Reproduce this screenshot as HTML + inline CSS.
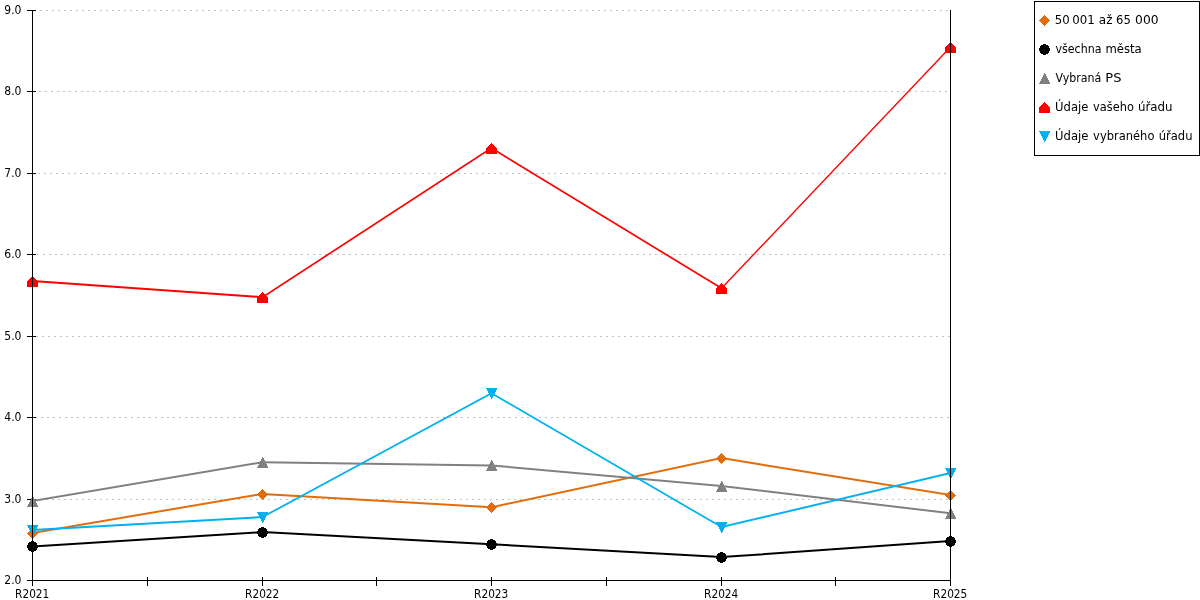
<!DOCTYPE html>
<html lang="cs">
<head>
<meta charset="utf-8">
<title>Graf</title>
<style>
html,body{margin:0;padding:0;background:#fff;}
body{width:1200px;height:600px;overflow:hidden;}
svg{display:block;}
.ax{font-family:"DejaVu Sans Condensed", "Liberation Sans", sans-serif;font-size:12px;fill:#000;}
.lg{font-family:"DejaVu Sans Condensed", "Liberation Sans", sans-serif;font-size:12px;fill:#000;}
.crisp{shape-rendering:crispEdges;}
</style>
</head>
<body>
<svg width="1200" height="600" viewBox="0 0 1200 600">
<rect x="0" y="0" width="1200" height="600" fill="#ffffff"/>

<g class="crisp" stroke="#C0C0C0" stroke-width="1" stroke-dasharray="2 4">
<line x1="40" y1="10.5" x2="950" y2="10.5"/>
<line x1="39" y1="91.5" x2="950" y2="91.5"/>
<line x1="38" y1="173.5" x2="950" y2="173.5"/>
<line x1="37" y1="254.5" x2="950" y2="254.5"/>
<line x1="36" y1="336.5" x2="950" y2="336.5"/>
<line x1="35" y1="417.5" x2="950" y2="417.5"/>
<line x1="40" y1="499.5" x2="950" y2="499.5"/>
</g>
<g class="crisp" fill="#000">
<rect x="27" y="10" width="9" height="1"/>
<rect x="27" y="91" width="9" height="1"/>
<rect x="27" y="173" width="9" height="1"/>
<rect x="27" y="254" width="9" height="1"/>
<rect x="27" y="336" width="9" height="1"/>
<rect x="27" y="417" width="9" height="1"/>
<rect x="27" y="499" width="9" height="1"/>
<rect x="27" y="580" width="9" height="1"/>
<rect x="32" y="577" width="1" height="9"/>
<rect x="147" y="577" width="1" height="9"/>
<rect x="262" y="577" width="1" height="9"/>
<rect x="376" y="577" width="1" height="9"/>
<rect x="491" y="577" width="1" height="9"/>
<rect x="606" y="577" width="1" height="9"/>
<rect x="721" y="577" width="1" height="9"/>
<rect x="835" y="577" width="1" height="9"/>
<rect x="950" y="577" width="1" height="9"/>
</g>
<polygon points="32.5,531.9 262.5,492.9 491.5,506.3 721.5,457.1 950.5,494.1 950.5,496.1 721.5,459.1 491.5,508.3 262.5,494.9 32.5,533.9" fill="#E36C0A"/>
<g class="crisp">
<polygon points="32.5,528 38,533.5 32.5,539 27,533.5" fill="#E36C0A"/>
<polygon points="262.5,489 268,494.5 262.5,500 257,494.5" fill="#E36C0A"/>
<polygon points="491.5,502 497,507.5 491.5,513 486,507.5" fill="#E36C0A"/>
<polygon points="721.5,453 727,458.5 721.5,464 716,458.5" fill="#E36C0A"/>
<polygon points="950.5,490 956,495.5 950.5,501 945,495.5" fill="#E36C0A"/>
</g>
<polygon points="32.5,545.5 262.5,531.1 491.5,543.3 721.5,556.1 950.5,540.1 950.5,542.1 721.5,558.1 491.5,545.3 262.5,533.1 32.5,547.5" fill="#000000"/>
<g class="crisp">
<path d="M31 541h3v1h-3zM29 542h7v1h-7zM28 543h9v1h-9zM28 544h9v1h-9zM27 545h11v1h-11zM27 546h11v1h-11zM27 547h11v1h-11zM28 548h9v1h-9zM28 549h9v1h-9zM29 550h7v1h-7zM31 551h3v1h-3z" fill="#000000"/>
<path d="M261 527h3v1h-3zM259 528h7v1h-7zM258 529h9v1h-9zM258 530h9v1h-9zM257 531h11v1h-11zM257 532h11v1h-11zM257 533h11v1h-11zM258 534h9v1h-9zM258 535h9v1h-9zM259 536h7v1h-7zM261 537h3v1h-3z" fill="#000000"/>
<path d="M490 539h3v1h-3zM488 540h7v1h-7zM487 541h9v1h-9zM487 542h9v1h-9zM486 543h11v1h-11zM486 544h11v1h-11zM486 545h11v1h-11zM487 546h9v1h-9zM487 547h9v1h-9zM488 548h7v1h-7zM490 549h3v1h-3z" fill="#000000"/>
<path d="M720 552h3v1h-3zM718 553h7v1h-7zM717 554h9v1h-9zM717 555h9v1h-9zM716 556h11v1h-11zM716 557h11v1h-11zM716 558h11v1h-11zM717 559h9v1h-9zM717 560h9v1h-9zM718 561h7v1h-7zM720 562h3v1h-3z" fill="#000000"/>
<path d="M949 536h3v1h-3zM947 537h7v1h-7zM946 538h9v1h-9zM946 539h9v1h-9zM945 540h11v1h-11zM945 541h11v1h-11zM945 542h11v1h-11zM946 543h9v1h-9zM946 544h9v1h-9zM947 545h7v1h-7zM949 546h3v1h-3z" fill="#000000"/>
</g>
<polygon points="32.5,500.1 262.5,461.2 491.5,464.4 721.5,485 950.5,512.3 950.5,514.3 721.5,487 491.5,466.4 262.5,463.2 32.5,502.1" fill="#808080"/>
<g class="crisp">
<path d="M32 496h1v1h-1zM32 497h2v1h-2zM31 498h3v1h-3zM31 499h4v1h-4zM30 500h5v1h-5zM30 501h6v1h-6zM29 502h7v1h-7zM29 503h8v1h-8zM28 504h9v1h-9zM28 505h10v1h-10zM27 506h11v1h-11z" fill="#808080"/>
<path d="M262 457h1v1h-1zM262 458h2v1h-2zM261 459h3v1h-3zM261 460h4v1h-4zM260 461h5v1h-5zM260 462h6v1h-6zM259 463h7v1h-7zM259 464h8v1h-8zM258 465h9v1h-9zM258 466h10v1h-10zM257 467h11v1h-11z" fill="#808080"/>
<path d="M491 460h1v1h-1zM491 461h2v1h-2zM490 462h3v1h-3zM490 463h4v1h-4zM489 464h5v1h-5zM489 465h6v1h-6zM488 466h7v1h-7zM488 467h8v1h-8zM487 468h9v1h-9zM487 469h10v1h-10zM486 470h11v1h-11z" fill="#808080"/>
<path d="M721 481h1v1h-1zM721 482h2v1h-2zM720 483h3v1h-3zM720 484h4v1h-4zM719 485h5v1h-5zM719 486h6v1h-6zM718 487h7v1h-7zM718 488h8v1h-8zM717 489h9v1h-9zM717 490h10v1h-10zM716 491h11v1h-11z" fill="#808080"/>
<path d="M950 508h1v1h-1zM950 509h2v1h-2zM949 510h3v1h-3zM949 511h4v1h-4zM948 512h5v1h-5zM948 513h6v1h-6zM947 514h7v1h-7zM947 515h8v1h-8zM946 516h9v1h-9zM946 517h10v1h-10zM945 518h11v1h-11z" fill="#808080"/>
</g>
<polygon points="32.5,280.1 262.5,296.2 491.5,147.1 721.5,287.3 950.5,46.1 950.5,48.1 721.5,289.3 491.5,149.1 262.5,298.2 32.5,282.1" fill="#FF0000"/>
<g class="crisp">
<polygon points="32.5,276 38,281 38,287 27,287 27,281" fill="#FF0000"/>
<polygon points="262.5,292 268,297 268,303 257,303 257,297" fill="#FF0000"/>
<polygon points="491.5,143 497,148 497,154 486,154 486,148" fill="#FF0000"/>
<polygon points="721.5,283 727,288 727,294 716,294 716,288" fill="#FF0000"/>
<polygon points="950.5,42 956,47 956,53 945,53 945,47" fill="#FF0000"/>
</g>
<polygon points="32.5,529.1 262.5,516.1 491.5,392.15 721.5,526.1 950.5,472.1 950.5,474.1 721.5,528.1 491.5,394.15 262.5,518.1 32.5,531.1" fill="#00B0F0"/>
<g class="crisp">
<path d="M27 525h11v1h-11zM28 526h10v1h-10zM28 527h9v1h-9zM29 528h8v1h-8zM29 529h7v1h-7zM30 530h6v1h-6zM30 531h5v1h-5zM31 532h4v1h-4zM31 533h3v1h-3zM32 534h2v1h-2zM32 535h1v1h-1z" fill="#00B0F0"/>
<path d="M257 512h11v1h-11zM258 513h10v1h-10zM258 514h9v1h-9zM259 515h8v1h-8zM259 516h7v1h-7zM260 517h6v1h-6zM260 518h5v1h-5zM261 519h4v1h-4zM261 520h3v1h-3zM262 521h2v1h-2zM262 522h1v1h-1z" fill="#00B0F0"/>
<path d="M486 388h11v1h-11zM487 389h10v1h-10zM487 390h9v1h-9zM488 391h8v1h-8zM488 392h7v1h-7zM489 393h6v1h-6zM489 394h5v1h-5zM490 395h4v1h-4zM490 396h3v1h-3zM491 397h2v1h-2zM491 398h1v1h-1z" fill="#00B0F0"/>
<path d="M716 522h11v1h-11zM717 523h10v1h-10zM717 524h9v1h-9zM718 525h8v1h-8zM718 526h7v1h-7zM719 527h6v1h-6zM719 528h5v1h-5zM720 529h4v1h-4zM720 530h3v1h-3zM721 531h2v1h-2zM721 532h1v1h-1z" fill="#00B0F0"/>
<path d="M945 468h11v1h-11zM946 469h10v1h-10zM946 470h9v1h-9zM947 471h8v1h-8zM947 472h7v1h-7zM948 473h6v1h-6zM948 474h5v1h-5zM949 475h4v1h-4zM949 476h3v1h-3zM950 477h2v1h-2zM950 478h1v1h-1z" fill="#00B0F0"/>
</g>
<g class="crisp" fill="#000">
<rect x="32" y="10" width="1" height="571"/>
<rect x="950" y="10" width="1" height="571"/>
<rect x="32" y="580" width="919" height="1"/>
</g>
<text class="ax" x="21.5" y="14.3" text-anchor="end">9.0</text>
<text class="ax" x="21.5" y="95.3" text-anchor="end">8.0</text>
<text class="ax" x="21.5" y="177.3" text-anchor="end">7.0</text>
<text class="ax" x="21.5" y="258.3" text-anchor="end">6.0</text>
<text class="ax" x="21.5" y="340.3" text-anchor="end">5.0</text>
<text class="ax" x="21.5" y="421.3" text-anchor="end">4.0</text>
<text class="ax" x="21.5" y="503.3" text-anchor="end">3.0</text>
<text class="ax" x="21.5" y="584.3" text-anchor="end">2.0</text>
<text class="ax" x="32.2" y="598" text-anchor="middle" textLength="34.2" lengthAdjust="spacingAndGlyphs">R2021</text>
<text class="ax" x="262.2" y="598" text-anchor="middle" textLength="34.2" lengthAdjust="spacingAndGlyphs">R2022</text>
<text class="ax" x="491.2" y="598" text-anchor="middle" textLength="34.2" lengthAdjust="spacingAndGlyphs">R2023</text>
<text class="ax" x="721.2" y="598" text-anchor="middle" textLength="34.2" lengthAdjust="spacingAndGlyphs">R2024</text>
<text class="ax" x="950.2" y="598" text-anchor="middle" textLength="34.2" lengthAdjust="spacingAndGlyphs">R2025</text>
<rect class="crisp" x="1034.5" y="1.5" width="165" height="154" fill="#fff" stroke="#000" stroke-width="1"/>
<g class="crisp">
<polygon points="1044.5,15 1050,20.5 1044.5,26 1039,20.5" fill="#E36C0A"/>
<path d="M1043 44h3v1h-3zM1041 45h7v1h-7zM1040 46h9v1h-9zM1040 47h9v1h-9zM1039 48h11v1h-11zM1039 49h11v1h-11zM1039 50h11v1h-11zM1040 51h9v1h-9zM1040 52h9v1h-9zM1041 53h7v1h-7zM1043 54h3v1h-3z" fill="#000000"/>
<path d="M1044 73h1v1h-1zM1044 74h2v1h-2zM1043 75h3v1h-3zM1043 76h4v1h-4zM1042 77h5v1h-5zM1042 78h6v1h-6zM1041 79h7v1h-7zM1041 80h8v1h-8zM1040 81h9v1h-9zM1040 82h10v1h-10zM1039 83h11v1h-11z" fill="#808080"/>
<polygon points="1044.5,102 1050,107 1050,113 1039,113 1039,107" fill="#FF0000"/>
<path d="M1039 131h11v1h-11zM1040 132h10v1h-10zM1040 133h9v1h-9zM1041 134h8v1h-8zM1041 135h7v1h-7zM1042 136h6v1h-6zM1042 137h5v1h-5zM1043 138h4v1h-4zM1043 139h3v1h-3zM1044 140h2v1h-2zM1044 141h1v1h-1z" fill="#00B0F0"/>
</g>
<text class="lg" y="23.8"><tspan x="1054.7" textLength="14.9" lengthAdjust="spacingAndGlyphs">50</tspan> <tspan x="1072.21" textLength="22.45" lengthAdjust="spacingAndGlyphs">001</tspan> <tspan x="1098.89" textLength="13.62" lengthAdjust="spacingAndGlyphs">až</tspan> <tspan x="1116.02" textLength="14.76" lengthAdjust="spacingAndGlyphs">65</tspan> <tspan x="1135.12" textLength="23.38" lengthAdjust="spacingAndGlyphs">000</tspan></text>
<text class="lg" y="52.8"><tspan x="1055.5" textLength="45.93" lengthAdjust="spacingAndGlyphs">všechna</tspan> <tspan x="1105.42" textLength="36.27" lengthAdjust="spacingAndGlyphs">města</tspan></text>
<text class="lg" y="81.8"><tspan x="1055.5" textLength="45.83" lengthAdjust="spacingAndGlyphs">Vybraná</tspan> <tspan x="1105.29" textLength="16.16" lengthAdjust="spacingAndGlyphs">PS</tspan></text>
<text class="lg" y="110.8"><tspan x="1055.1" textLength="33.3" lengthAdjust="spacingAndGlyphs">Údaje</tspan> <tspan x="1093.1" textLength="40.76" lengthAdjust="spacingAndGlyphs">vašeho</tspan> <tspan x="1137.9" textLength="34.65" lengthAdjust="spacingAndGlyphs">úřadu</tspan></text>
<text class="lg" y="139.8"><tspan x="1055.1" textLength="33.3" lengthAdjust="spacingAndGlyphs">Údaje</tspan> <tspan x="1093.1" textLength="61.32" lengthAdjust="spacingAndGlyphs">vybraného</tspan> <tspan x="1158.68" textLength="33.86" lengthAdjust="spacingAndGlyphs">úřadu</tspan></text>
</svg>
</body>
</html>
